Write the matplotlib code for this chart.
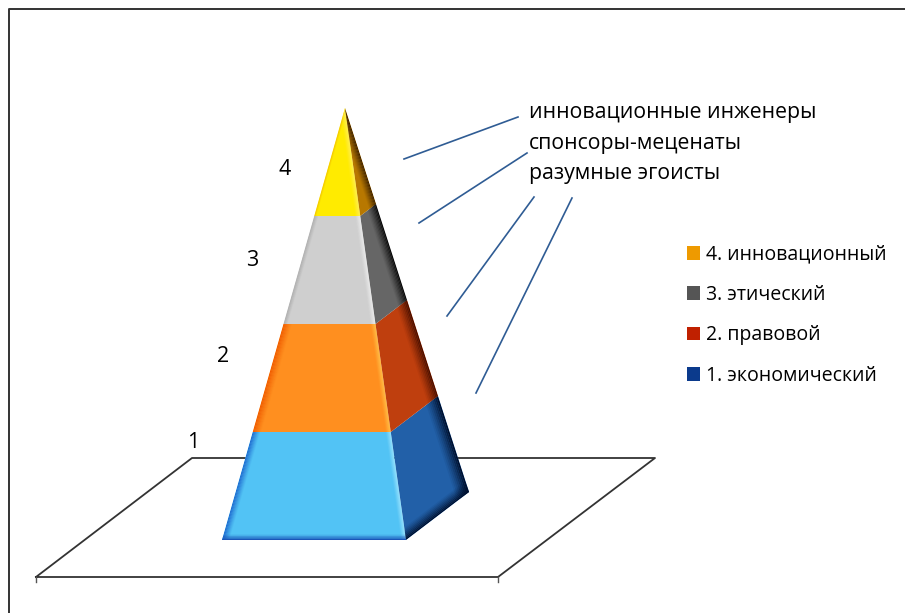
import numpy as np
import matplotlib
matplotlib.use('Agg')
import matplotlib.pyplot as plt
from matplotlib.patches import Polygon, Patch

plt.rcParams['font.family'] = ['Open Sans', 'DejaVu Sans']

# levels from bottom to top, all the same height
levels = [1, 2, 3, 4]
level_sizes = [1, 1, 1, 1]
legend_labels = ['4. инновационный', '3. этический', '2. правовой', '1. экономический']
legend_colors = ['#EE9A00', '#555555', '#C02000', '#0B3A8C']
notes = ['инновационные инженеры', 'спонсоры-меценаты', 'разумные эгоисты']
note_y = [118, 149, 179]

front_colors = ['#52C3F5', '#FF8F1F', '#CFCFCF', '#FFEB00']
front_left = ['#1A62CC', '#F05A00', '#A8A8A8', '#F2B800']
front_left_w = [7, 8, 4, 2]
front_right = ['#A5E8FF', '#FFC850', '#F0F0F0', '#FFF060']
side_colors = ['#2260A8', '#BF3F0E', '#666666', '#B87800']
side_dark = ['#00102E', '#4A1000', '#0A0A0A', '#3A2000']

# pyramid in pixels
apex = np.array([345.0, 108.0])
base_l = np.array([222.0, 540.0])
base_r = np.array([406.0, 540.0])
base_b = np.array([469.0, 492.0])

leader_lines = [((404, 159), (518, 117)), ((419, 223), (527, 153)),
                ((447, 316), (534, 197)), ((476, 393), (572, 198))]
platform = [(36, 577), (498, 577), (655, 458), (192, 458), (36, 577)]
label_pos = [(193, 448), (223, 362), (252, 266), (285, 175)]


def shade(ax, poly, i, color, width, n=8):
    # soft strip along edge i of the polygon, clipped to it
    poly = np.array(poly)
    a, b = poly[i], poly[(i + 1) % len(poly)]
    d = (b - a) / np.linalg.norm(b - a)
    nrm = np.array([-d[1], d[0]])
    if np.dot(poly.mean(axis=0) - a, nrm) < 0:
        nrm = -nrm
    clip = Polygon(poly, transform=ax.transData, fc='none', ec='none')
    ax.add_patch(clip)
    for k in range(n):
        o0, o1 = width * k / n, width * (k + 1) / n
        strip = [a - d * 50 + nrm * o0, b + d * 50 + nrm * o0,
                 b + d * 50 + nrm * o1, a - d * 50 + nrm * o1]
        p = Polygon(strip, fc=color, ec='none', alpha=(1 - k / n) ** 1.3, zorder=4)
        ax.add_patch(p)
        p.set_clip_path(clip)


def lerp(p, f):
    return p + (apex - p) * f


fig = plt.figure(figsize=(9.05, 6.13), dpi=100)
ax = fig.add_axes([0, 0, 1, 1])
ax.set_xlim(0, 905)
ax.set_ylim(613, 0)
ax.axis('off')

# frame
ax.plot([8.5, 8.5, 905], [613, 9, 9], color='#333333', lw=1.4)

# platform
ax.plot(*zip(*platform), color='#333333', lw=1.3, zorder=1)
ax.plot([36, 36], [577, 582], color='#555555', lw=1, zorder=1)
ax.plot([498, 498], [577, 582], color='#555555', lw=1, zorder=1)

# pyramid
fr = np.cumsum([0] + level_sizes) / sum(level_sizes)
for i in range(len(levels)):
    f0, f1 = fr[i], fr[i + 1]
    front = [lerp(base_l, f0), lerp(base_l, f1), lerp(base_r, f1), lerp(base_r, f0)]
    side = [lerp(base_r, f0), lerp(base_r, f1), lerp(base_b, f1), lerp(base_b, f0)]
    ax.add_patch(Polygon(front, fc=front_colors[i], ec='none', zorder=3))
    ax.add_patch(Polygon(side, fc=side_colors[i], ec='none', zorder=3))
    shade(ax, front, 0, front_left[i], front_left_w[i])
    shade(ax, front, 2, front_right[i], 5)
    shade(ax, side, 2, side_dark[i], 14 - i * 2)
    if i == 0:
        shade(ax, front, 3, '#1A55B8', 6)
        shade(ax, side, 3, side_dark[0], 11)
    ax.text(*label_pos[i], str(levels[i]), fontsize=15.5, color='black',
            ha='center', va='baseline', zorder=5)

# callouts
for (p0, p1) in leader_lines:
    ax.plot([p0[0], p1[0]], [p0[1], p1[1]], color='#2F5C94', lw=1.2, zorder=2)
for y, s in zip(note_y, notes):
    ax.text(529, y, s, fontsize=15.35, color='black', ha='left', va='baseline')

handles = [Patch(fc=c, ec='none') for c in legend_colors]
ax.legend(handles, legend_labels, loc='upper left', bbox_to_anchor=(679 / 905, 1 - 237 / 613),
          frameon=False, fontsize=14.05, handlelength=0.7, handleheight=0.7,
          handletextpad=0.27, labelspacing=1.04, borderpad=0.4, borderaxespad=0)

fig.savefig('out.png', dpi=100)
